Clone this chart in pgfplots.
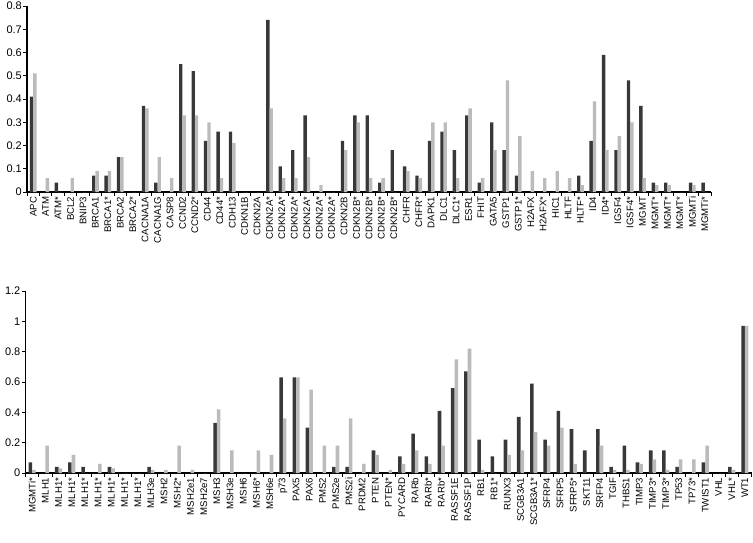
\documentclass[border=0pt]{standalone}
\usepackage{fontspec}
\setmainfont{Liberation Sans}
\usepackage{pgfplots}
\usepackage{pgfplotstable}
\pgfplotsset{compat=1.18}

\definecolor{darkbar}{HTML}{383838}
\definecolor{lightbar}{HTML}{BBBBBB}

% methylation frequencies, top panel
\pgfplotstableread{
x name dark light
1 APC 0.41 0.51
2 ATM 0 0.06
3 ATM* 0.04 0
4 BCL2 0 0.06
5 BNIP3 0 0
6 BRCA1 0.07 0.09
7 BRCA1* 0.07 0.09
8 BRCA2 0.15 0.15
9 BRCA2* 0 0
10 CACNA1A 0.37 0.36
11 CACNA1G 0.04 0.15
12 CASP8 0 0.06
13 CCND2 0.55 0.33
14 CCND2* 0.52 0.33
15 CD44 0.22 0.30
16 CD44* 0.26 0.06
17 CDH13 0.26 0.21
18 CDKN1B 0 0
19 CDKN2A 0 0
20 CDKN2A* 0.74 0.36
21 CDKN2A* 0.11 0.06
22 CDKN2A* 0.18 0.06
23 CDKN2A* 0.33 0.15
24 CDKN2A* 0 0.03
25 CDKN2A* 0 0
26 CDKN2B 0.22 0.18
27 CDKN2B* 0.33 0.30
28 CDKN2B* 0.33 0.06
29 CDKN2B* 0.04 0.06
30 CDKN2B* 0.18 0
31 CHFR 0.11 0.09
32 CHFR* 0.07 0.06
33 DAPK1 0.22 0.30
34 DLC1 0.26 0.30
35 DLC1* 0.18 0.06
36 ESR1 0.33 0.36
37 FHIT 0.04 0.06
38 GATA5 0.30 0.18
39 GSTP1 0.18 0.48
40 GSTP1* 0.07 0.24
41 H2AFX 0 0.09
42 H2AFX* 0 0.06
43 HIC1 0 0.09
44 HLTF 0 0.06
45 HLTF* 0.07 0.03
46 ID4 0.22 0.39
47 ID4* 0.59 0.18
48 IGSF4 0.18 0.24
49 IGSF4* 0.48 0.30
50 MGMT 0.37 0.06
51 MGMT* 0.04 0.03
52 MGMT* 0.04 0.03
53 MGMT* 0 0
54 MGMTi 0.04 0.03
55 MGMTi* 0.04 0
}\toptable

% bottom panel
\pgfplotstableread{
x name dark light
1 MGMTi* 0.07 0.02
2 MLH1 0 0.18
3 MLH1* 0.04 0.03
4 MLH1* 0.07 0.12
5 MLH1* 0.04 0
6 MLH1* 0 0.06
7 MLH1* 0.04 0.03
8 MLH1* 0 0
9 MLH1* 0 0
10 MLH3e 0.04 0.02
11 MSH2 0 0.02
12 MSH2* 0 0.18
13 MSH2e1 0 0.02
14 MSH2e7 0 0
15 MSH3 0.33 0.42
16 MSH3e 0 0.15
17 MSH6 0 0
18 MSH6* 0 0.15
19 MSH6e 0 0.12
20 p73 0.63 0.36
21 PAX5 0.63 0.63
22 PAX6 0.30 0.55
23 PMS2 0 0.18
24 PMS2e 0.04 0.18
25 PMS2i 0.04 0.36
26 PRDM2 0 0.06
27 PTEN 0.15 0.12
28 PTEN* 0 0.02
29 PYCARD 0.11 0.06
30 RARb 0.26 0.15
31 RARb* 0.11 0.06
32 RARb* 0.41 0.18
33 RASSF1E 0.56 0.75
34 RASSF1P 0.67 0.82
35 RB1 0.22 0.02
36 RB1* 0.11 0
37 RUNX3 0.22 0.12
38 SCGB3A1 0.37 0.15
39 SCGB3A1* 0.59 0.27
40 SFRP4 0.22 0.18
41 SFRP5 0.41 0.30
42 SFRP5* 0.29 0.06
43 SKT11 0.15 0
44 SRFP4 0.29 0.18
45 TGIF 0.04 0.02
46 THBS1 0.18 0.02
47 TIMP3 0.07 0.06
48 TIMP3* 0.15 0.09
49 TIMP3* 0.15 0.02
50 TP53 0.04 0.09
51 TP73* 0 0.09
52 TWIST1 0.07 0.18
53 VHL 0 0
54 VHL* 0.04 0.02
55 WT1 0.97 0.97
}\bottomtable

\pgfplotsset{
  genebars/.style={
    scale only axis,
    axis lines*=left,
    axis line style={black, line width=1.1pt},
    xmin=0.5, xmax=55.5,
    ymin=0,
    xtick={1,...,55},
    major x tick style={draw=none},
    minor xtick={0.5,1.5,...,55.5},
    tick align=outside,
    major tick length=3.5pt,
    minor tick length=3.5pt,
    tick style={black, line width=0.8pt},
    x tick label style={rotate=90, anchor=east, font=\fontsize{9.6}{9.6}\selectfont, inner sep=1pt},
    y tick label style={font=\fontsize{11}{11}\selectfont, inner sep=1.5pt},
    /pgf/number format/assume math mode=true,
    bar width=0.27,
  },
}

\begin{document}
\begin{tikzpicture}
\useasboundingbox (0,0) rectangle (753pt,-543pt);

\begin{axis}[
  genebars,
  at={(27pt,-192pt)}, anchor=south west,
  width=684pt, height=186pt,
  ymax=0.8,
  ytick={0,0.1,0.2,0.3,0.4,0.5,0.6,0.7,0.8},
  xticklabels from table={\toptable}{name},
]
  \addplot[ybar, fill=darkbar, draw=none, bar shift=-0.135] table[x=x, y=dark] {\toptable};
  \addplot[ybar, fill=lightbar, draw=none, bar shift=0.135] table[x=x, y=light] {\toptable};
\end{axis}

\begin{axis}[
  genebars,
  at={(25.5pt,-473pt)}, anchor=south west,
  width=726pt, height=182pt,
  ymax=1.2,
  ytick={0,0.2,0.4,0.6,0.8,1,1.2},
  xticklabels from table={\bottomtable}{name},
]
  \addplot[ybar, fill=darkbar, draw=none, bar shift=-0.135] table[x=x, y=dark] {\bottomtable};
  \addplot[ybar, fill=lightbar, draw=none, bar shift=0.135] table[x=x, y=light] {\bottomtable};
\end{axis}
\end{tikzpicture}
\end{document}
